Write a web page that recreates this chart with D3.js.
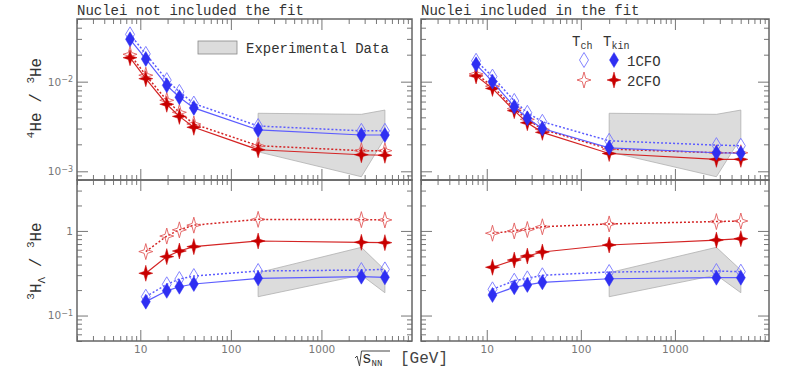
<!DOCTYPE html>
<html>
<head>
<meta charset="utf-8">
<script src="https://cdn.jsdelivr.net/npm/d3@7"></script>
<style>
  body { margin: 0; background: #fff; }
  text { font-family: "Liberation Mono", monospace; }
  .tick text { font-family: "DejaVu Sans", sans-serif; font-size: 10.5px; fill: #777; }
  .tick line { stroke: #777; }
</style>
</head>
<body>
<svg id="chart" width="793" height="378"></svg>
<script>
const energies = [7.7, 11.5, 19.6, 27, 39, 200, 2760, 5020];
const energiesHyp = [11.5, 19.6, 27, 39, 200, 2760, 5020];
const bandEnergies = [200, 2760, 5020];

// 4He/3He, nuclei not included in the fit
const he4NoFitCh1 = [0.0337, 0.0204, 0.0104, 0.0077, 0.0057, 0.0032, 0.00283, 0.00283];
const he4NoFitKin1 = [0.0297, 0.0179, 0.0091, 0.0067, 0.0051, 0.0029, 0.00254, 0.00254];
const he4NoFitCh2 = [0.0202, 0.0118, 0.0062, 0.00455, 0.00337, 0.00193, 0.0017, 0.0017];
const he4NoFitKin2 = [0.0185, 0.0108, 0.0056, 0.0041, 0.0031, 0.00174, 0.00153, 0.00151];
// 4He/3He, nuclei included in the fit
const he4FitCh1 = [0.0171, 0.0114, 0.0061, 0.0045, 0.00357, 0.00219, 0.00196, 0.00193];
const he4FitKin1 = [0.0156, 0.0100, 0.00525, 0.0039, 0.0030, 0.00183, 0.00161, 0.00159];
const he4FitCh2 = [0.0122, 0.0089, 0.0050, 0.0038, 0.00294, 0.00177, 0.00161, 0.00161];
const he4FitKin2 = [0.0116, 0.0084, 0.00475, 0.00348, 0.00272, 0.00158, 0.00136, 0.00136];
// 3H_Lambda/3He
const hypNoFitCh1 = [0.167, 0.234, 0.270, 0.293, 0.336, 0.345, 0.351];
const hypNoFitKin1 = [0.146, 0.196, 0.219, 0.236, 0.275, 0.288, 0.283];
const hypNoFitCh2 = [0.57, 0.87, 1.03, 1.17, 1.37, 1.36, 1.35];
const hypNoFitKin2 = [0.316, 0.497, 0.579, 0.652, 0.76, 0.734, 0.727];
const hypFitCh1 = [0.204, 0.258, 0.275, 0.299, 0.327, 0.336, 0.330];
const hypFitKin1 = [0.175, 0.216, 0.230, 0.247, 0.272, 0.280, 0.280];
const hypFitCh2 = [0.94, 1.00, 1.04, 1.12, 1.21, 1.29, 1.31];
const hypFitKin2 = [0.372, 0.453, 0.505, 0.564, 0.682, 0.78, 0.81];

// experimental data bands
const he4BandHi = [0.00444, 0.00432, 0.00482];
const he4BandLo = [0.00165, 0.00087, 0.00235];
const hypBandHi = [0.321, 0.640, 0.345];
const hypBandLo = [0.167, 0.301, 0.186];

const xTicksMajor = [10, 100, 1000];
const he4TicksMajor = [0.001, 0.01];
const hypTicksMajor = [0.1, 1];

const svg = d3.select('#chart');
const cols = [[77, 412], [421, 769]];
const rows = [[19, 180], [180, 341]];

const blue = '#2f2ff2', blueLine = '#5c5cff', blueOpen = '#7777ff';
const red = '#c80000', redLine = '#d42424', redOpen = '#e25c5c';
const diamond = 'M0,-7.5L4.5,0L0,7.5L-4.5,0Z';
const star = 'M0,-8L1.7,-1.7L7,0L1.7,1.7L0,8L-1.7,1.7L-7,0L-1.7,-1.7Z';

const isDecade = t => Math.abs(Math.log10(t) - Math.round(Math.log10(t))) < 1e-6;

function drawPanel(c, r, xs, yDomain, yMajor, bandHi, bandLo, series) {
  const x = d3.scaleLog().domain([2, 10000]).range(cols[c]);
  const y = d3.scaleLog().domain(yDomain).range([rows[r][1], rows[r][0]]);
  const g = svg.append('g');

  const band = d3.zip(bandEnergies, bandLo, bandHi);
  g.append('path')
    .attr('d', d3.area().x(d => x(d[0])).y0(d => y(d[1])).y1(d => y(d[2]))(band))
    .attr('fill', '#dcdcdc')
    .attr('stroke', '#b0b0b0')
    .attr('stroke-width', 0.8);

  series.forEach(s => {
    const pts = d3.zip(xs, s.vals);
    g.append('path')
      .attr('d', d3.line().x(d => x(d[0])).y(d => y(d[1]))(pts))
      .attr('fill', 'none')
      .attr('stroke', s.line)
      .attr('stroke-width', s.open ? 1.5 : 1.2)
      .attr('stroke-dasharray', s.open ? '2,2' : null);
    g.selectAll(null)
      .data(pts)
      .join('path')
        .attr('transform', d => `translate(${x(d[0])},${y(d[1])})`)
        .attr('d', s.shape)
        .attr('fill', s.open ? 'none' : s.color)
        .attr('stroke', s.color)
        .attr('stroke-width', s.open ? 0.9 : 0.5);
  });

  const xMinor = x.ticks().filter(t => !isDecade(t));
  const yMinor = y.ticks().filter(t => !isDecade(t));
  const [x0, x1] = cols[c];
  const [y0, y1] = rows[r];
  const none = () => '';

  const put = (axis, pos) => g.append('g')
    .attr('transform', pos)
    .call(axis)
    .call(s => s.select('.domain').remove());

  put(d3.axisTop(x).tickValues(xMinor).tickSize(-5).tickFormat(none), `translate(0,${y0})`);
  put(d3.axisTop(x).tickValues(xTicksMajor).tickSize(-11).tickFormat(none), `translate(0,${y0})`);
  put(d3.axisBottom(x).tickValues(xMinor).tickSize(-5).tickFormat(none), `translate(0,${y1})`);
  put(d3.axisBottom(x).tickValues(xTicksMajor).tickSize(-11).tickPadding(5)
    .tickFormat(r === 1 ? d3.format('d') : none), `translate(0,${y1})`);

  put(d3.axisLeft(y).tickValues(yMinor).tickSize(-5).tickFormat(none), `translate(${x0},0)`);
  const yl = put(d3.axisLeft(y).tickValues(yMajor).tickSize(-11).tickPadding(4)
    .tickFormat(c === 0 ? d => d : none), `translate(${x0},0)`);
  put(d3.axisRight(y).tickValues(yMinor).tickSize(-5).tickFormat(none), `translate(${x1},0)`);
  put(d3.axisRight(y).tickValues(yMajor).tickSize(-11).tickFormat(none), `translate(${x1},0)`);

  if (c === 0) {
    yl.selectAll('.tick text').each(function(d) {
      const e = Math.round(Math.log10(d));
      const t = d3.select(this).text(e === 0 ? '1' : '10');
      if (e !== 0) {
        t.append('tspan').attr('dy', '-0.45em').attr('font-size', '8px').text('\u2212' + Math.abs(e));
      }
    });
  }

  g.append('rect')
    .attr('x', x0).attr('y', y0)
    .attr('width', x1 - x0).attr('height', y1 - y0)
    .attr('fill', 'none')
    .attr('stroke', '#666')
    .attr('stroke-width', 1.5);
}

const mk = (vals, open, cfo) => ({
  vals, open,
  shape: cfo === 1 ? diamond : star,
  color: cfo === 1 ? (open ? blueOpen : blue) : (open ? redOpen : red),
  line: cfo === 1 ? blueLine : redLine
});

drawPanel(0, 0, energies, [8e-4, 0.05], he4TicksMajor, he4BandHi, he4BandLo, [
  mk(he4NoFitCh2, true, 2), mk(he4NoFitKin2, false, 2),
  mk(he4NoFitCh1, true, 1), mk(he4NoFitKin1, false, 1)
]);
drawPanel(1, 0, energies, [8e-4, 0.05], he4TicksMajor, he4BandHi, he4BandLo, [
  mk(he4FitCh2, true, 2), mk(he4FitKin2, false, 2),
  mk(he4FitCh1, true, 1), mk(he4FitKin1, false, 1)
]);
drawPanel(0, 1, energiesHyp, [0.05, 4], hypTicksMajor, hypBandHi, hypBandLo, [
  mk(hypNoFitCh2, true, 2), mk(hypNoFitKin2, false, 2),
  mk(hypNoFitCh1, true, 1), mk(hypNoFitKin1, false, 1)
]);
drawPanel(1, 1, energiesHyp, [0.05, 4], hypTicksMajor, hypBandHi, hypBandLo, [
  mk(hypFitCh2, true, 2), mk(hypFitKin2, false, 2),
  mk(hypFitCh1, true, 1), mk(hypFitKin1, false, 1)
]);

// titles
svg.append('text').attr('x', 77).attr('y', 15).attr('font-size', 14).attr('fill', '#333')
  .text('Nuclei not included the fit');
svg.append('text').attr('x', 421).attr('y', 15).attr('font-size', 14).attr('fill', '#333')
  .text('Nuclei included in the fit');

// experimental data legend
svg.append('rect').attr('x', 198).attr('y', 41).attr('width', 39).attr('height', 13)
  .attr('fill', '#dcdcdc').attr('stroke', '#888').attr('stroke-width', 0.8);
svg.append('text').attr('x', 246).attr('y', 53).attr('font-size', 14).attr('fill', '#333')
  .text('Experimental Data');

// model legend
const leg = svg.append('g');
[['ch', 572], ['kin', 603]].forEach(([sub, lx]) => {
  const t = leg.append('text').attr('x', lx).attr('y', 46).attr('font-size', 14).attr('fill', '#333').text('T');
  t.append('tspan').attr('dy', 3).attr('font-size', 10).text(sub);
});
[[diamond, 60, blueOpen, blue, '1CFO'], [star, 80, redOpen, red, '2CFO']].forEach(([shape, ly, co, cf, label]) => {
  leg.append('path').attr('transform', `translate(584,${ly})`).attr('d', shape)
    .attr('fill', 'none').attr('stroke', co).attr('stroke-width', 0.9);
  leg.append('path').attr('transform', `translate(614,${ly})`).attr('d', shape)
    .attr('fill', cf).attr('stroke', cf).attr('stroke-width', 0.5);
  leg.append('text').attr('x', 627).attr('y', ly + 6).attr('font-size', 14).attr('fill', '#333').text(label);
});

// y axis titles
function yTitle(cy, parts) {
  const t = svg.append('text')
    .attr('transform', `translate(41,${cy}) rotate(-90)`)
    .attr('text-anchor', 'middle')
    .attr('font-size', 16)
    .attr('fill', '#333');
  parts.forEach(([txt, dy, fs]) => {
    t.append('tspan').attr('dy', dy).attr('font-size', fs).text(txt);
  });
}
yTitle(98, [['4', -7, 11], ['He / ', 7, 16], ['3', -7, 11], ['He', 7, 16]]);
yTitle(261, [['3', -7, 11], ['H', 7, 16], ['\u039b', 4, 11], [' / ', -4, 16], ['3', -7, 11], ['He', 7, 16]]);

// x axis title
svg.append('path').attr('d', 'M355,358L357,356L359.5,366L361.5,351L390,351')
  .attr('fill', 'none').attr('stroke', '#444').attr('stroke-width', 1);
const xt = svg.append('text').attr('x', 362).attr('y', 363).attr('font-size', 16).attr('fill', '#333').text('s');
xt.append('tspan').attr('dy', 3).attr('font-size', 9).text('NN');
svg.append('text').attr('x', 400).attr('y', 363).attr('font-size', 16)
  .attr('font-family', '"DejaVu Sans", sans-serif').attr('fill', '#444').text('[GeV]');
</script>
</body>
</html>
